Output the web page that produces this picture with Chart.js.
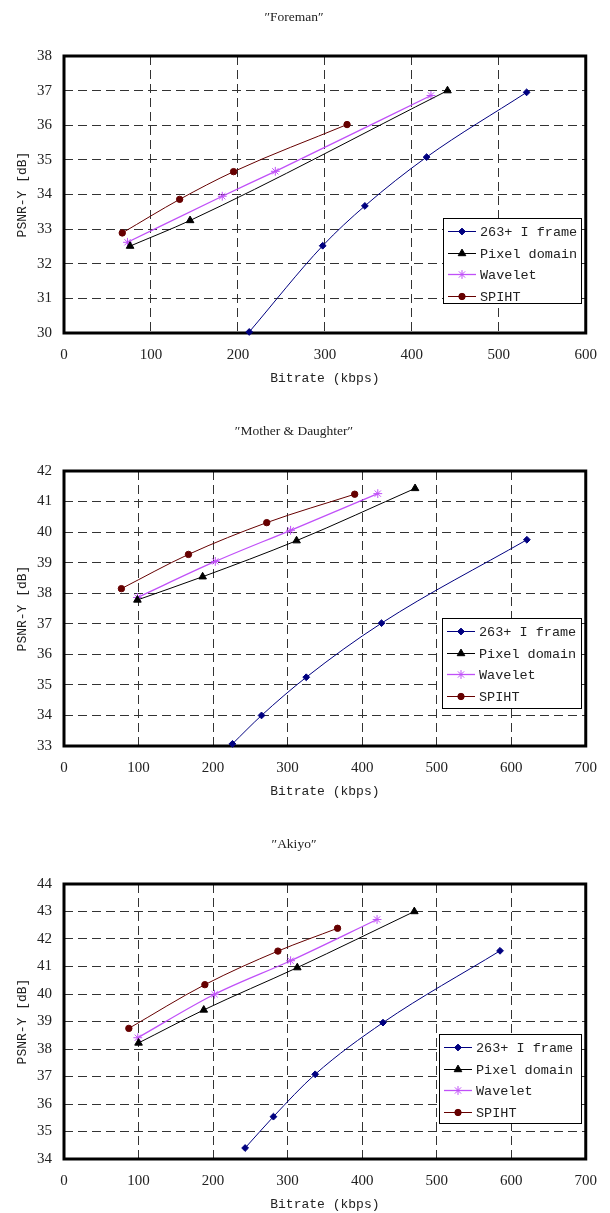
<!DOCTYPE html>
<html>
<head>
<meta charset="utf-8">
<script src="https://cdn.jsdelivr.net/npm/chart.js@4.4.0/dist/chart.umd.min.js"></script>
<style>
html,body{margin:0;padding:0;background:#fff;width:610px;height:1213px;overflow:hidden;position:relative}
canvas{position:absolute;left:0}
</style>
</head>
<body>
<canvas id="c1" width="610" height="395" style="top:0px"></canvas>
<canvas id="c2" width="610" height="394" style="top:414px"></canvas>
<canvas id="c3" width="610" height="394" style="top:827px"></canvas>
<script>
// ---------- DATA ----------
const seriesNames = ["263+ I frame", "Pixel domain", "Wavelet", "SPIHT"];
const chartTitles = ["\u2033Foreman\u2033", "\u2033Mother & Daughter\u2033", "\u2033Akiyo\u2033"];
const xAxisTitle = "Bitrate (kbps)";
const yAxisTitle = "PSNR-Y [dB]";

// Foreman
const foremanIframeBitrate = [213, 297.5, 346, 417, 532];
const foremanIframePsnr    = [30.03, 32.52, 33.67, 35.08, 36.95];
const foremanPixelBitrate  = [76, 145, 441];
const foremanPixelPsnr     = [32.51, 33.25, 37.0];
const foremanWaveletBitrate = [73, 182, 243, 422];
const foremanWaveletPsnr    = [32.62, 33.95, 34.67, 36.86];
const foremanSpihtBitrate  = [67, 133, 195, 325.5];
const foremanSpihtPsnr     = [32.89, 33.86, 34.66, 36.02];

// Mother & Daughter
const motherIframeBitrate = [226, 265, 325, 426, 621];
const motherIframePsnr    = [33.07, 34.0, 35.25, 37.02, 39.75];
const motherPixelBitrate  = [98.5, 186, 312, 471];
const motherPixelPsnr     = [37.78, 38.54, 39.72, 41.43];
const motherWaveletBitrate = [98.5, 203, 304, 421];
const motherWaveletPsnr    = [37.86, 39.04, 40.06, 41.26];
const motherSpihtBitrate  = [77, 167, 272, 390];
const motherSpihtPsnr     = [38.15, 39.27, 40.31, 41.24];

// Akiyo
const akiyoIframeBitrate = [243, 281, 337, 428, 585];
const akiyoIframePsnr    = [34.4, 35.54, 37.08, 38.96, 41.57];
const akiyoPixelBitrate  = [100, 187.5, 313, 470];
const akiyoPixelPsnr     = [38.22, 39.42, 40.96, 43.0];
const akiyoWaveletBitrate = [99, 202, 304, 420];
const akiyoWaveletPsnr    = [38.41, 39.99, 41.21, 42.71];
const akiyoSpihtBitrate  = [87, 189, 287, 367];
const akiyoSpihtPsnr     = [38.75, 40.34, 41.56, 42.39];

// axis ranges / ticks
const yRanges = [[30, 38], [33, 42], [34, 44]];
const xRanges = [[0, 600], [0, 700], [0, 700]];
const xTickStep = 100;
const yTickStep = 1;

// ---------- STYLE ----------
const seriesStyles = [
  {color: '#000080', fill: '#000080', pointStyle: 'rectRot', radius: 3.4, width: 1},
  {color: '#000000', fill: '#000000', pointStyle: 'triangle', radius: 4.4, width: 1},
  {color: '#c050f8', fill: '#c050f8', pointStyle: 'star', radius: 4.4, width: 1.3},
  {color: '#660000', fill: '#660000', pointStyle: 'circle', radius: 3.2, width: 1}
];

function zip(xs, ys) { return xs.map((x, i) => ({x: x, y: ys[i]})); }

const allSeries = [
  [zip(foremanIframeBitrate, foremanIframePsnr), zip(foremanPixelBitrate, foremanPixelPsnr),
   zip(foremanWaveletBitrate, foremanWaveletPsnr), zip(foremanSpihtBitrate, foremanSpihtPsnr)],
  [zip(motherIframeBitrate, motherIframePsnr), zip(motherPixelBitrate, motherPixelPsnr),
   zip(motherWaveletBitrate, motherWaveletPsnr), zip(motherSpihtBitrate, motherSpihtPsnr)],
  [zip(akiyoIframeBitrate, akiyoIframePsnr), zip(akiyoPixelBitrate, akiyoPixelPsnr),
   zip(akiyoWaveletBitrate, akiyoWaveletPsnr), zip(akiyoSpihtBitrate, akiyoSpihtPsnr)]
];

// layout per chart (relative to canvas top)
const layouts = [
  {plotTop: 56, plotBottom: 333, titleY: 17, legend: {right: 5, bottom: 30, width: 138, height: 85}},
  {plotTop: 57, plotBottom: 332, titleY: 17, legend: {right: 5, bottom: 38, width: 139, height: 90}},
  {plotTop: 57, plotBottom: 332, titleY: 17, legend: {right: 5, bottom: 36, width: 142, height: 89}}
];

const frameBorder = {
  id: 'frameBorder',
  beforeDatasetsDraw(chart) {
    const a = chart.chartArea, ctx = chart.ctx;
    ctx.save();
    ctx.strokeStyle = '#000';
    ctx.lineWidth = 3;
    ctx.strokeRect(a.left, a.top, a.right - a.left, a.bottom - a.top);
    ctx.restore();
  }
};

function drawMarker(ctx, st, x, y) {
  ctx.fillStyle = st.fill;
  ctx.strokeStyle = st.color;
  ctx.lineWidth = 1;
  if (Chart.helpers && Chart.helpers.drawPoint) {
    Chart.helpers.drawPoint(ctx, {pointStyle: st.pointStyle, radius: st.radius, borderWidth: 1, rotation: 0}, x, y);
  } else {
    ctx.beginPath(); ctx.arc(x, y, st.radius, 0, Math.PI * 2); ctx.fill();
  }
}

const boxLegend = {
  id: 'boxLegend',
  afterDatasetsDraw(chart, args, opts) {
    const ctx = chart.ctx, a = chart.chartArea;
    const x = Math.round(a.right - opts.right - opts.width);
    const y = Math.round(a.bottom - opts.bottom - opts.height);
    ctx.save();
    ctx.fillStyle = '#fff';
    ctx.fillRect(x, y, opts.width, opts.height);
    ctx.strokeStyle = '#000';
    ctx.lineWidth = 1;
    ctx.strokeRect(x + 0.5, y + 0.5, opts.width, opts.height);
    ctx.font = '13.5px "Liberation Mono", monospace';
    ctx.textBaseline = 'middle';
    ctx.textAlign = 'left';
    seriesNames.forEach((name, i) => {
      const st = seriesStyles[i];
      const cy = Math.round(y + 13 + i * 21.6) + 0.5;
      ctx.strokeStyle = st.color;
      ctx.lineWidth = st.width;
      ctx.beginPath();
      ctx.moveTo(x + 5, cy);
      ctx.lineTo(x + 33, cy);
      ctx.stroke();
      drawMarker(ctx, st, x + 19, cy);
      ctx.fillStyle = '#222';
      ctx.fillText(name, x + 37, cy + 1);
    });
    ctx.restore();
  }
};

function makeChart(idx) {
  const L = layouts[idx];
  const canvas = document.getElementById('c' + (idx + 1));
  const H = canvas.height;
  const titleSize = 13.5;
  const titleLH = titleSize * 1.2;
  const titlePadTop = L.titleY - titleLH / 2;
  const titlePadBottom = L.plotTop - titlePadTop - titleLH;
  const xAxisHeight = H - L.plotBottom;
  const datasets = allSeries[idx].map((pts, i) => {
    const st = seriesStyles[i];
    return {
      label: seriesNames[i],
      data: pts,
      borderColor: st.color,
      backgroundColor: st.fill,
      borderWidth: st.width,
      pointStyle: st.pointStyle,
      pointRadius: st.radius,
      pointBackgroundColor: st.fill,
      pointBorderColor: st.color,
      pointBorderWidth: 1,
      cubicInterpolationMode: 'monotone',
      tension: 0.4,
      fill: false,
      clip: false
    };
  });
  return new Chart(canvas, {
    type: 'line',
    data: {datasets: datasets},
    options: {
      responsive: false,
      animation: false,
      devicePixelRatio: 1,
      layout: {padding: {left: 0, right: 22, top: 0, bottom: 0}},
      plugins: {
        legend: {display: false},
        tooltip: {enabled: false},
        title: {
          display: true,
          text: chartTitles[idx],
          color: '#222',
          font: {family: '"Liberation Serif", serif', size: titleSize, weight: 'normal'},
          padding: {top: titlePadTop, bottom: titlePadBottom}
        },
        boxLegend: L.legend
      },
      scales: {
        x: {
          type: 'linear',
          min: xRanges[idx][0],
          max: xRanges[idx][1],
          afterFit(s) { s.height = xAxisHeight; },
          ticks: {
            stepSize: xTickStep,
            padding: 13,
            color: '#222',
            maxRotation: 0,
            font: {family: '"Liberation Serif", serif', size: 15}
          },
          grid: {color: '#333', lineWidth: 1, drawTicks: false},
          border: {display: false, dash: [9, 5]},
          title: {
            display: true,
            text: xAxisTitle,
            color: '#222',
            font: {family: '"Liberation Mono", monospace', size: 13},
            padding: {top: 0, bottom: xAxisHeight - 46 - 7.8}
          }
        },
        y: {
          type: 'linear',
          min: yRanges[idx][0],
          max: yRanges[idx][1],
          afterFit(s) { s.width = 64; },
          ticks: {
            stepSize: yTickStep,
            padding: 12,
            color: '#222',
            font: {family: '"Liberation Serif", serif', size: 15}
          },
          grid: {color: '#333', lineWidth: 1, drawTicks: false},
          border: {display: false, dash: [9, 5]},
          title: {
            display: true,
            text: yAxisTitle,
            color: '#222',
            font: {family: '"Liberation Mono", monospace', size: 13},
            padding: {top: 15, bottom: 0}
          }
        }
      }
    },
    plugins: [frameBorder, boxLegend]
  });
}

[0, 1, 2].forEach(makeChart);
</script>
</body>
</html>
